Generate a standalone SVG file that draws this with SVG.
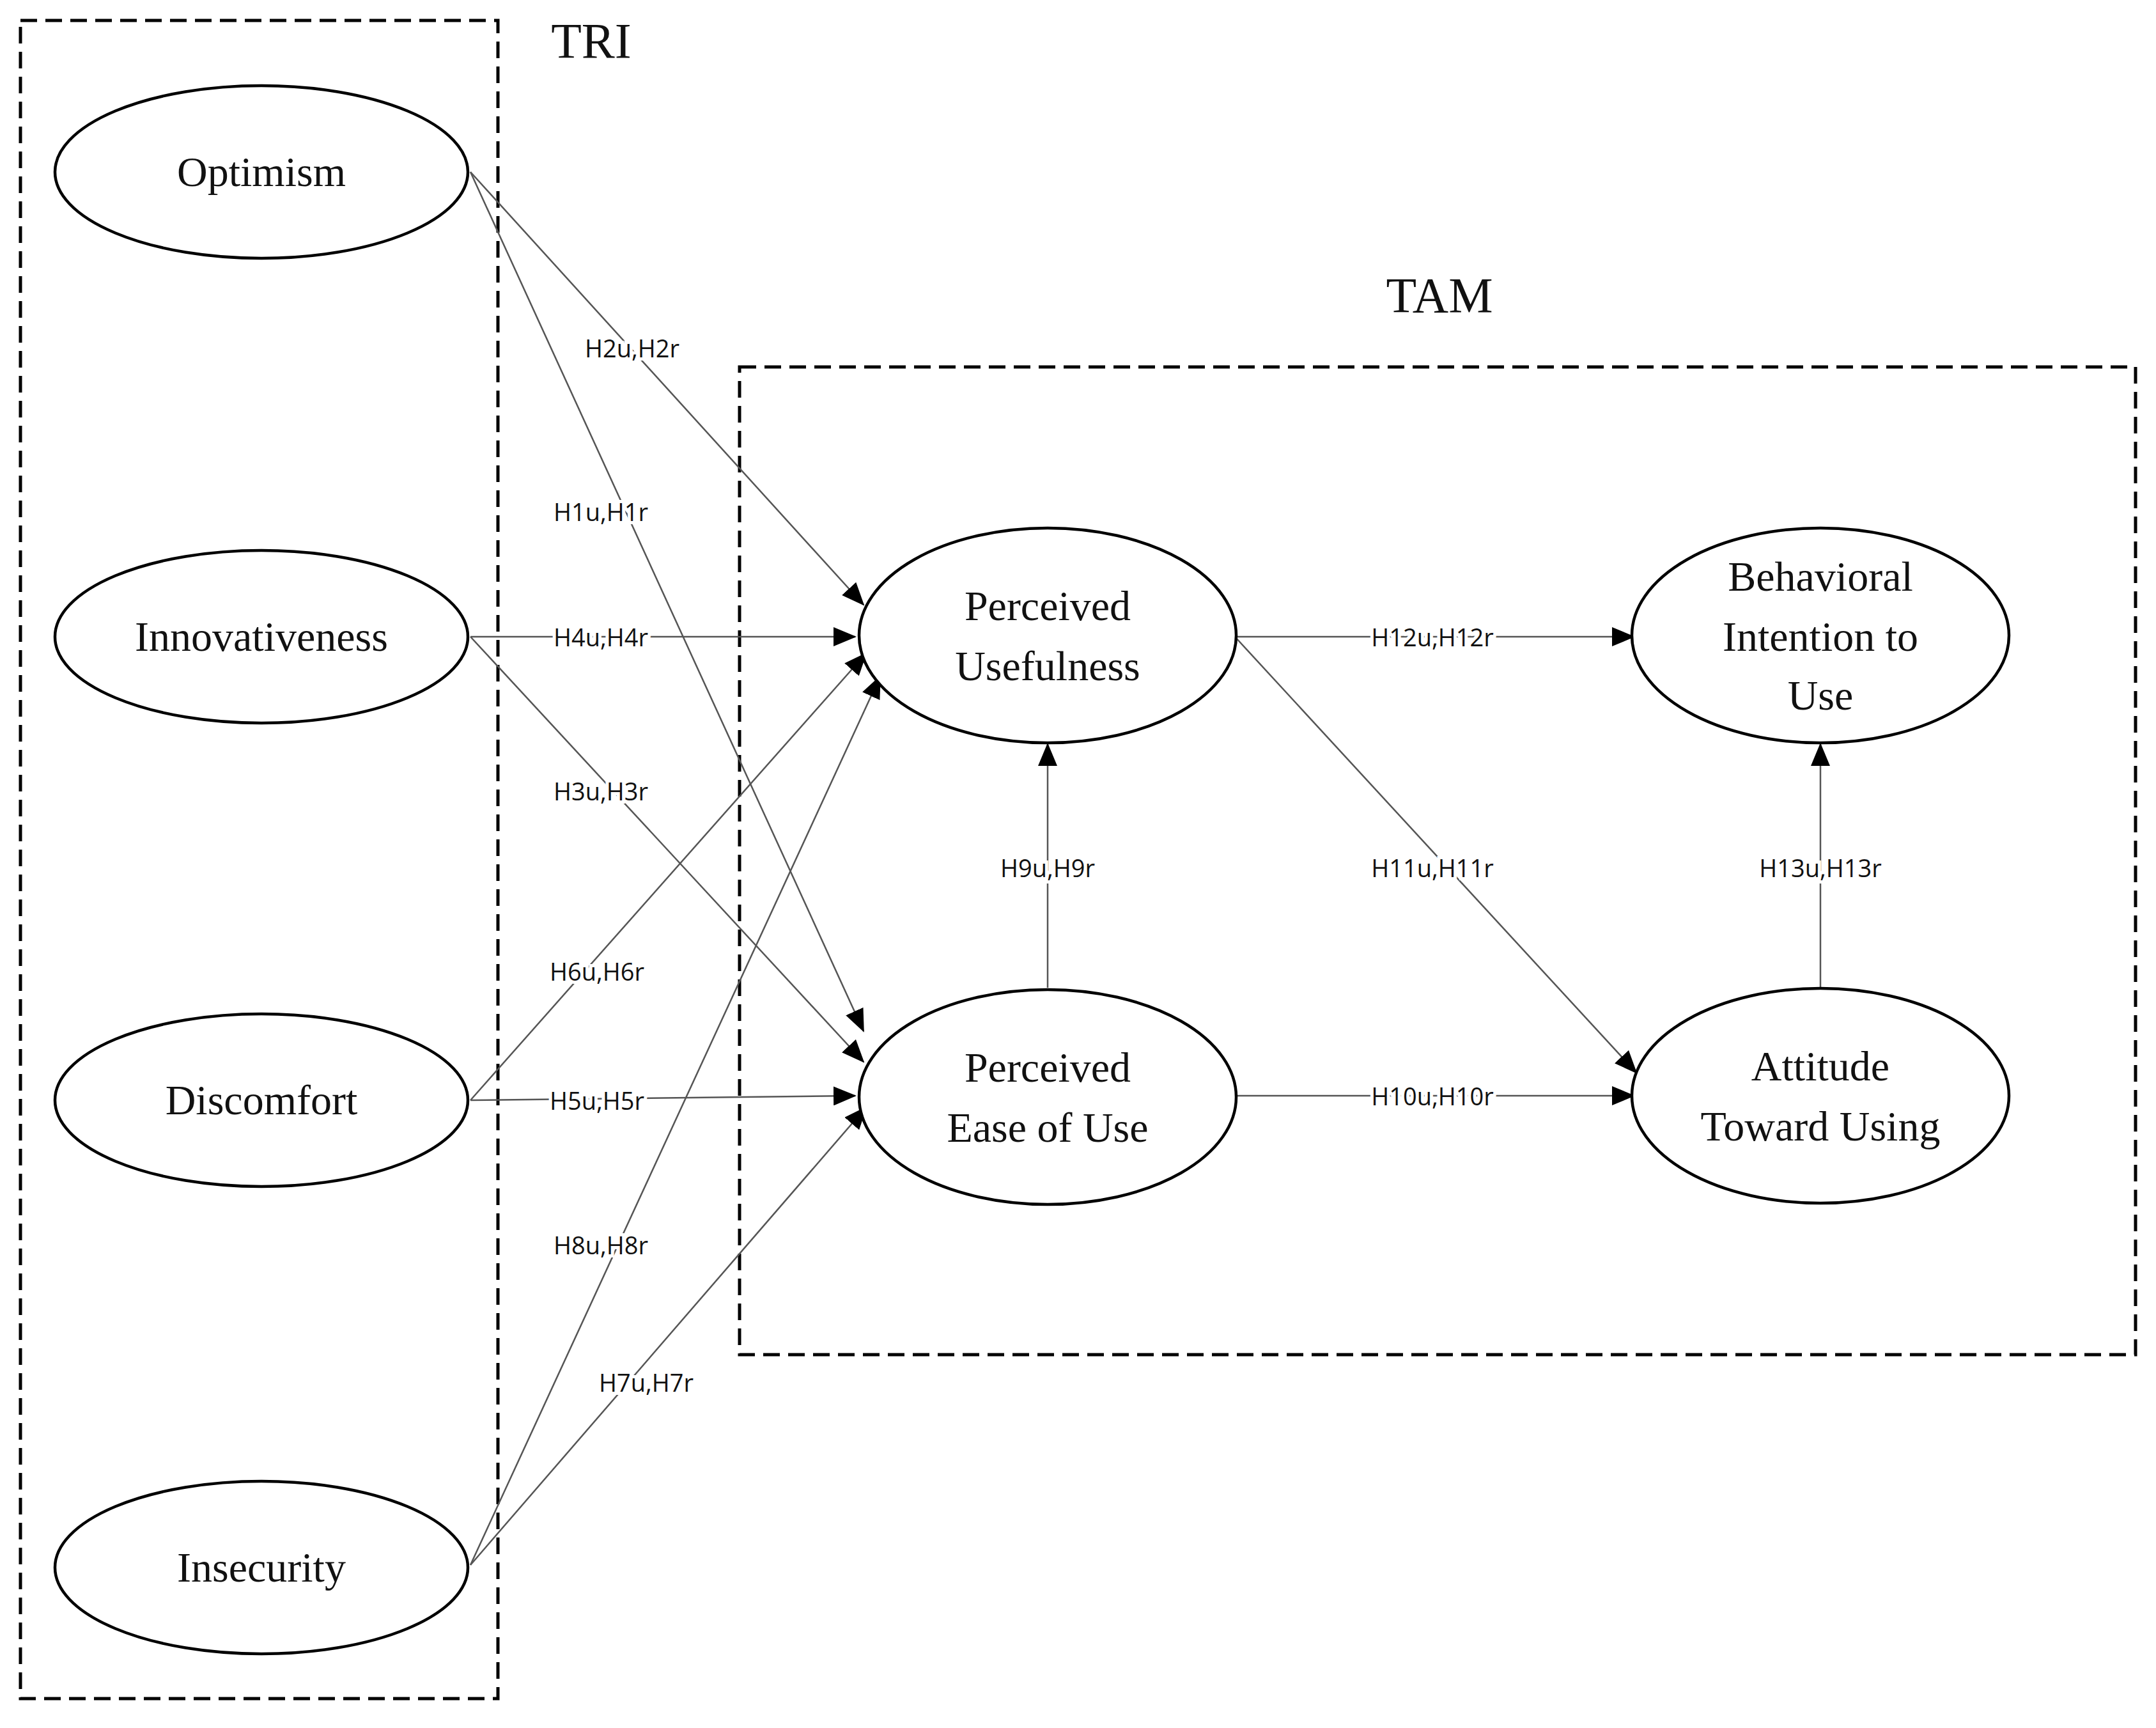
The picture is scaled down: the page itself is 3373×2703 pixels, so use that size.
<svg xmlns="http://www.w3.org/2000/svg" width="3373" height="2703" viewBox="0 0 3373 2703">
<style>
.box{fill:none;stroke:#000;stroke-width:5;stroke-dasharray:26 13}
.node ellipse{fill:#fff;stroke:#000;stroke-width:4.5}
.nt{font-family:"Liberation Serif",serif;font-size:66px;text-anchor:middle;fill:#111}
.title{font-family:"Liberation Serif",serif;font-size:78px;text-anchor:middle;fill:#111}
.e{stroke:#555;stroke-width:2.5;fill:none;marker-end:url(#ah)}
.lb{font-family:"Open Sans","DejaVu Sans",sans-serif;font-size:38px;text-anchor:middle;dominant-baseline:central;fill:#111;stroke:#fff;stroke-width:10;paint-order:stroke}
</style>
<defs>
<marker id="ah" markerUnits="userSpaceOnUse" markerWidth="36" markerHeight="30" refX="34" refY="15" orient="auto">
<path d="M0,0 L36,15 L0,30 Z" fill="#000"/>
</marker>
</defs>
<rect width="3373" height="2703" fill="#fff"/>
<rect class="box" x="32" y="32" width="747" height="2625"/>
<rect class="box" x="1157" y="574" width="2184" height="1545"/>
<text class="title" x="925" y="90">TRI</text>
<text class="title" x="2252" y="488">TAM</text>
<g id="connectors">
<line class="e" x1="736" y1="269" x2="1351" y2="946"/>
<line class="e" x1="736" y1="269" x2="1351" y2="1613"/>
<line class="e" x1="736" y1="996" x2="1338" y2="996"/>
<line class="e" x1="736" y1="996" x2="1351" y2="1661"/>
<line class="e" x1="736" y1="1721" x2="1355" y2="1022"/>
<line class="e" x1="736" y1="1721" x2="1338" y2="1714"/>
<line class="e" x1="736" y1="2448" x2="1377" y2="1058"/>
<line class="e" x1="736" y1="2448" x2="1355" y2="1732"/>
<line class="e" x1="1639" y1="1545" x2="1639" y2="1164"/>
<line class="e" x1="1932" y1="996" x2="2556" y2="996"/>
<line class="e" x1="1932" y1="996" x2="2560" y2="1678"/>
<line class="e" x1="1932" y1="1714" x2="2556" y2="1714"/>
<line class="e" x1="2848" y1="1545" x2="2848" y2="1164"/>
<text class="lb" x="989" y="544">H2u,H2r</text>
<text class="lb" x="940" y="800">H1u,H1r</text>
<text class="lb" x="940" y="996">H4u,H4r</text>
<text class="lb" x="940" y="1237">H3u,H3r</text>
<text class="lb" x="934" y="1519">H6u,H6r</text>
<text class="lb" x="934" y="1721">H5u,H5r</text>
<text class="lb" x="940" y="1947">H8u,H8r</text>
<text class="lb" x="1011" y="2162">H7u,H7r</text>
<text class="lb" x="1639" y="1357">H9u,H9r</text>
<text class="lb" x="2241" y="996">H12u,H12r</text>
<text class="lb" x="2241" y="1357">H11u,H11r</text>
<text class="lb" x="2241" y="1714">H10u,H10r</text>
<text class="lb" x="2848" y="1357">H13u,H13r</text>
</g>
<g id="optimism" class="node"><ellipse cx="409" cy="269" rx="323" ry="135"/><text class="nt" x="409" y="291">Optimism</text></g>
<g id="innovativeness" class="node"><ellipse cx="409" cy="996" rx="323" ry="135"/><text class="nt" x="409" y="1018">Innovativeness</text></g>
<g id="discomfort" class="node"><ellipse cx="409" cy="1721" rx="323" ry="135"/><text class="nt" x="409" y="1743">Discomfort</text></g>
<g id="insecurity" class="node"><ellipse cx="409" cy="2452" rx="323" ry="135"/><text class="nt" x="409" y="2474">Insecurity</text></g>
<g id="pu" class="node"><ellipse cx="1639" cy="994" rx="295" ry="168"/><text class="nt" x="1639" y="970">Perceived</text><text class="nt" x="1639" y="1064">Usefulness</text></g>
<g id="peou" class="node"><ellipse cx="1639" cy="1716" rx="295" ry="168"/><text class="nt" x="1639" y="1692">Perceived</text><text class="nt" x="1639" y="1786">Ease of Use</text></g>
<g id="bi" class="node"><ellipse cx="2848" cy="994" rx="295" ry="168"/><text class="nt" x="2848" y="924">Behavioral</text><text class="nt" x="2848" y="1018">Intention to</text><text class="nt" x="2848" y="1110">Use</text></g>
<g id="atu" class="node"><ellipse cx="2848" cy="1714" rx="295" ry="168"/><text class="nt" x="2848" y="1690">Attitude</text><text class="nt" x="2848" y="1784">Toward Using</text></g>
</svg>
